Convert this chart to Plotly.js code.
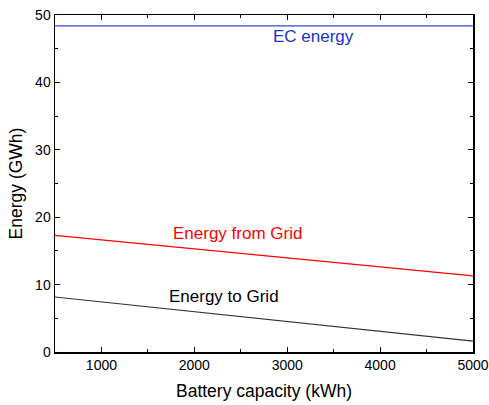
<!DOCTYPE html>
<html>
<head>
<meta charset="utf-8">
<script src="https://cdn.plot.ly/plotly-3.0.1.min.js"></script>
<style>html,body{margin:0;padding:0;background:#fff;}#chart{width:489px;height:405px;}</style>
</head>
<body>
<div id="chart"></div>
<script>
const batteryCapacity = [500, 2000, 5000];
const ecEnergy = [48.4, 48.4, 48.4];
const energyFromGrid = [17.3, 15.3, 11.3];
const energyToGrid = [8.16, 5.98, 1.6];
const seriesNames = ["EC energy", "Energy from Grid", "Energy to Grid"];
const seriesColors = ["#2a4bd0", "#ff0000", "#333333"];
const labelColors = ["#1a33c8", "#ff0000", "#000000"];
const labelX = [3285, 2468, 2317];
const labelY = [46.8, 17.6, 8.3];

const seriesY = [ecEnergy, energyFromGrid, energyToGrid];
const traces = seriesY.map((ys, i) => ({
  x: batteryCapacity, y: ys, type: 'scatter', mode: 'lines',
  name: seriesNames[i], line: {color: seriesColors[i], width: 1.2}, showlegend: false
}));

const FONT = 'Liberation Sans, Arial, sans-serif';
const axisCommon = {
  showgrid: false, zeroline: false, showline: true, linecolor: '#000', linewidth: 1.5,
  mirror: 'ticks', ticks: 'inside', ticklen: 5, tickwidth: 1, tickcolor: '#000',
  tickfont: {family: FONT, size: 14, color: '#000'}
};

const layout = {
  width: 489, height: 405,
  margin: {l: 55, r: 16, t: 15, b: 53},
  paper_bgcolor: '#fff', plot_bgcolor: '#fff',
  font: {family: FONT, color: '#000'},
  xaxis: Object.assign({}, axisCommon, {
    range: [500, 5000], tickvals: [1000, 2000, 3000, 4000, 5000],
    minor: {ticks: 'inside', ticklen: 3, tickcolor: '#000', tickvals: [500, 1500, 2500, 3500, 4500]},
    title: {text: 'Battery capacity (kWh)', font: {family: FONT, size: 17.5, color: '#000'}, standoff: 12}
  }),
  yaxis: Object.assign({}, axisCommon, {
    range: [0, 50], tickvals: [0, 10, 20, 30, 40, 50],
    minor: {ticks: 'inside', ticklen: 3, tickcolor: '#000', tickvals: [5, 15, 25, 35, 45]},
    title: {text: 'Energy (GWh)', font: {family: FONT, size: 17.5, color: '#000'}, standoff: 8}
  }),
  annotations: seriesNames.map((n, i) => ({
    x: labelX[i], y: labelY[i], xref: 'x', yref: 'y', text: n, showarrow: false,
    font: {family: FONT, size: 17, color: labelColors[i]}
  }))
};

Plotly.newPlot('chart', traces, layout, {displayModeBar: false, staticPlot: true});
</script>
</body>
</html>
